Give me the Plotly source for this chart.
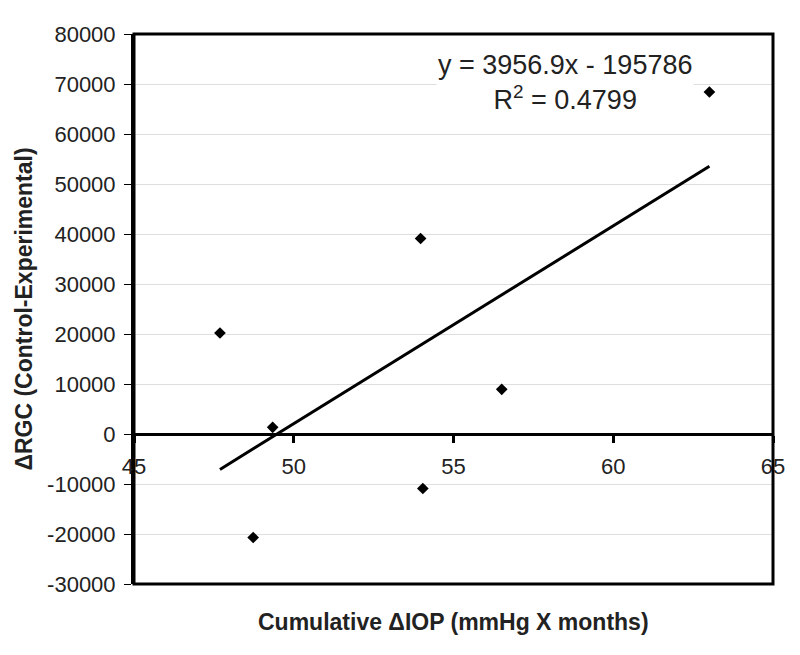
import plotly.graph_objects as go

# Data
iop = [47.69, 49.34, 48.73, 53.97, 54.04, 56.51, 63.01]
rgc = [20200, 1340, -20700, 39100, -10900, 8940, 68400]
slope = 3956.9
intercept = -195786
r2 = 0.4799
x_ticks = [45, 50, 55, 60, 65]
y_ticks = [-30000, -20000, -10000, 0, 10000, 20000, 30000, 40000, 50000, 60000, 70000, 80000]
y_tick_labels = [str(v) for v in y_ticks]
y_range = [-30000, 80000]
x_range = [45, 65]

font_family = "Liberation Sans, Arial, sans-serif"

fit_x = [min(iop), max(iop)]
fit_y = [slope * v + intercept for v in fit_x]

fig = go.Figure()
fig.add_trace(go.Scatter(x=fit_x, y=fit_y, mode="lines",
                         line=dict(color="black", width=3), showlegend=False))
fig.add_trace(go.Scatter(x=iop, y=rgc, mode="markers",
                         marker=dict(symbol="diamond", size=9, color="black"),
                         showlegend=False))

zero_pos = (0 - y_range[0]) / (y_range[1] - y_range[0])

fig.update_layout(
    width=800, height=655,
    margin=dict(l=134, r=27, t=34, b=71),
    paper_bgcolor="white", plot_bgcolor="white",
    font=dict(family=font_family, size=22, color="#222"),
    xaxis=dict(range=x_range, tickvals=x_ticks, showgrid=False, zeroline=False,
               showline=True, linecolor="black", linewidth=3,
               anchor="free", position=zero_pos,
               ticks="outside", ticklen=7, tickwidth=3, tickcolor="black",
               ticklabelstandoff=5,
               tickfont=dict(size=22, color="#222")),
    yaxis=dict(range=y_range, tickvals=y_ticks, ticktext=y_tick_labels,
               showgrid=True, gridcolor="#dedede",
               gridwidth=1, zeroline=False, showline=True, linecolor="black",
               linewidth=3, ticks="outside", ticklen=7, tickwidth=1, tickcolor="black",
               ticklabelstandoff=4,
               tickfont=dict(size=22, color="#222"),
               title=dict(text="<b>ΔRGC (Control-Experimental)</b>",
                          font=dict(size=23, color="#222"), standoff=9)),
    shapes=[dict(type="rect", xref="paper", yref="paper", x0=0, x1=1, y0=0, y1=1,
                 line=dict(color="black", width=3))],
    annotations=[
        dict(text="<b>Cumulative ΔIOP (mmHg X months)</b>", xref="paper", yref="paper",
             x=0.5, y=-0.069, xanchor="center", yanchor="middle", showarrow=False,
             font=dict(size=23, color="#222")),
        dict(text="y = 3956.9x - 195786<br>R<sup>2</sup> = %.4f" % r2,
             xref="paper", yref="paper", x=0.675, y=0.974, xanchor="center", yanchor="top",
             showarrow=False, bgcolor="white", align="center",
             font=dict(size=27, color="#222")),
    ],
)

fig.write_html("out.html", config={"displayModeBar": False},
               post_script="document.body.style.margin='0px';")
